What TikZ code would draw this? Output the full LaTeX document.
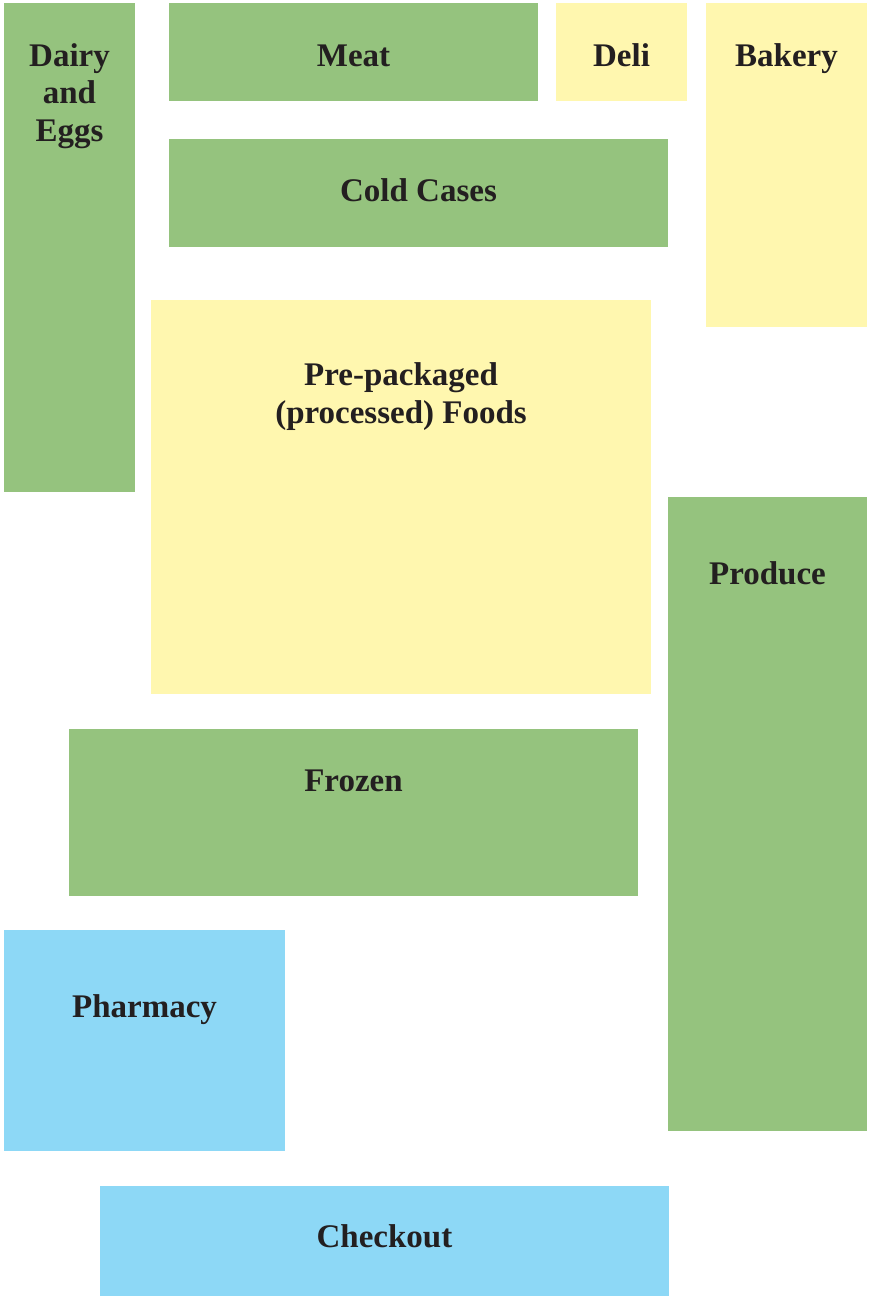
\documentclass[tikz,border=0pt]{standalone}
\usepackage{fontspec}
\setmainfont{Liberation Serif}
\definecolor{grn}{HTML}{95C37E}
\definecolor{ylw}{HTML}{FFF7AF}
\definecolor{blu}{HTML}{8DD8F6}
\definecolor{txt}{HTML}{231F20}
\begin{document}
\begin{tikzpicture}[x=1pt,y=-1pt,
  area/.style={fill=#1, draw=none},
  lbl/.style={font=\fontsize{33}{37.5}\selectfont\bfseries, text=txt, anchor=base, inner sep=0pt, align=center}]
\useasboundingbox (0,0) rectangle (870,1296);
% areas
\fill[area=grn] (4,3) rectangle (135,492);
\fill[area=grn] (169,3) rectangle (538,101);
\fill[area=ylw] (556,3) rectangle (687,101);
\fill[area=ylw] (706,3) rectangle (867,327);
\fill[area=grn] (169,139) rectangle (668,247);
\fill[area=ylw] (151,300) rectangle (651,694);
\fill[area=grn] (668,497) rectangle (867,1130.5);
\fill[area=grn] (69,729) rectangle (637.7,895.5);
\fill[area=blu] (4,930) rectangle (285,1150.5);
\fill[area=blu] (100,1186) rectangle (669,1296);
% labels (base anchor = baseline of the last line)
\node[lbl] (dairy) at (69.5,141) {Dairy\\and\\Eggs};
\node[lbl] (meat) at (353.5,66) {Meat};
\node[lbl] (deli) at (621.5,66) {Deli};
\node[lbl] (bakery) at (786.5,66) {Bakery};
\node[lbl] (cold) at (418.5,201) {Cold Cases};
\node[lbl] (pre) at (401,423) {Pre-packaged\\(processed) Foods};
\node[lbl] (produce) at (767.5,584) {Produce};
\node[lbl] (frozen) at (353.5,791) {Frozen};
\node[lbl] (pharm) at (144.5,1017) {Pharmacy};
\node[lbl] (check) at (384.5,1247) {Checkout};
\end{tikzpicture}
\end{document}
